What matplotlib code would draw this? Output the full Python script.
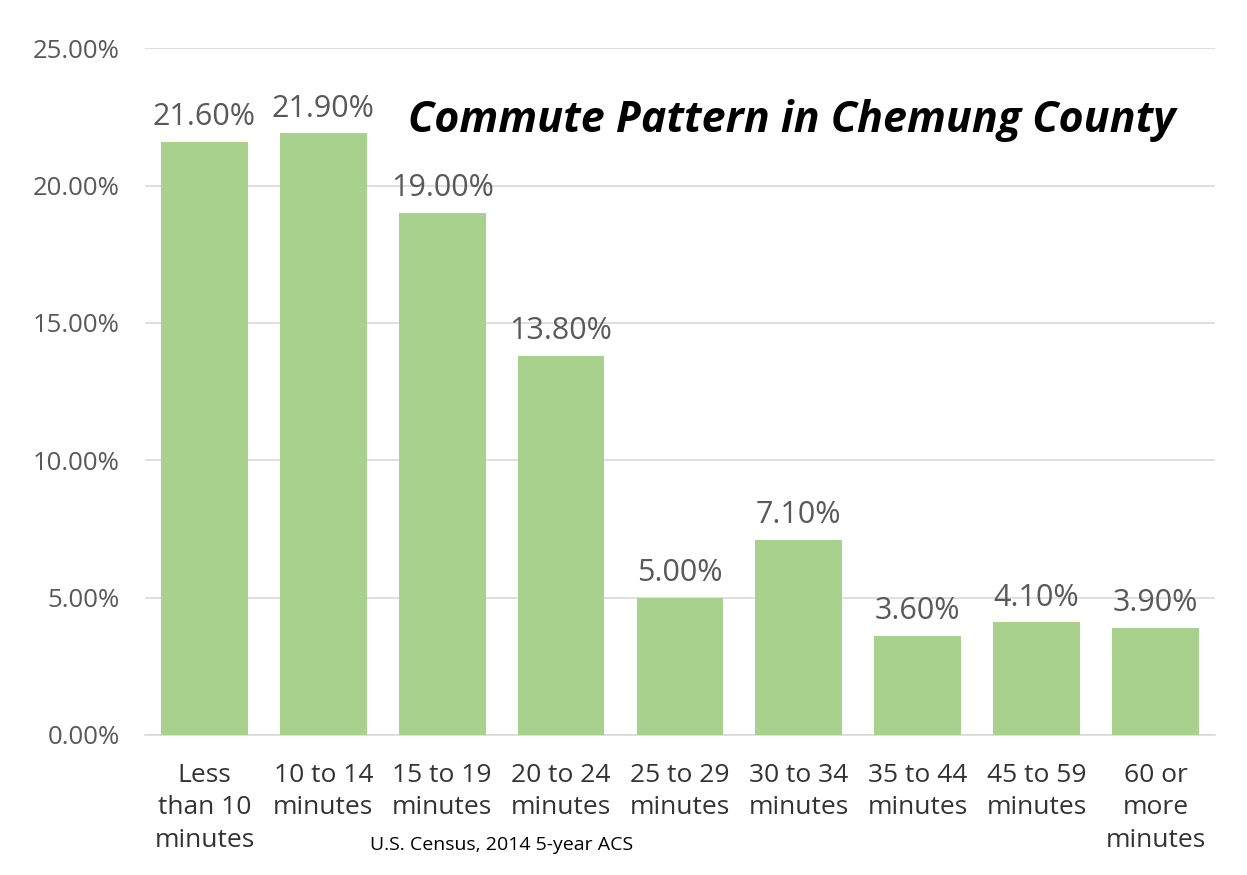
import matplotlib.pyplot as plt
from matplotlib.ticker import FuncFormatter

# commute time buckets and share of workers (percent)
categories = ['Less\nthan 10\nminutes', '10 to 14\nminutes', '15 to 19\nminutes',
              '20 to 24\nminutes', '25 to 29\nminutes', '30 to 34\nminutes',
              '35 to 44\nminutes', '45 to 59\nminutes', '60 or\nmore\nminutes']
shares = [21.6, 21.9, 19.0, 13.8, 5.0, 7.1, 3.6, 4.1, 3.9]
y_ticks = [0, 5, 10, 15, 20, 25]

plt.rcParams['font.family'] = ['Open Sans', 'DejaVu Sans']
txt_col = '#595959'

fig = plt.figure(figsize=(12.47, 8.75), dpi=100)
ax = fig.add_axes([0.1163, 0.16, 0.858, 0.785])

x = range(len(shares))
bars = ax.bar(x, shares, width=0.73, color='#A9D18E', zorder=3)

for xi, v in zip(x, shares):
    ax.annotate('%.2f%%' % v, (xi, v), xytext=(0, 7), textcoords='offset points',
                ha='center', va='bottom', fontsize=22, color=txt_col)

ax.set_xlim(-0.5, len(shares) - 0.5)
ax.set_ylim(0, 25)
ax.set_yticks(y_ticks)
ax.yaxis.set_major_formatter(FuncFormatter(lambda v, p: '%.2f%%' % v))
ax.grid(axis='y', color='#D9D9D9', linewidth=1.2, zorder=0)
ax.set_xticks(list(x))
ax.set_xticklabels(categories, fontsize=19, color='#333333', linespacing=1.4)
ax.tick_params(axis='y', labelsize=18.5, labelcolor=txt_col, length=0, pad=18)
ax.tick_params(axis='x', length=0, pad=20)
for s in ['top', 'right', 'left']:
    ax.spines[s].set_visible(False)
ax.spines['bottom'].set_color('#D9D9D9')
ax.spines['bottom'].set_linewidth(1.2)

fig.text(0.327, 0.862, 'Commute Pattern in Chemung County', fontsize=31,
         fontweight='bold', fontstyle='italic', color='black', va='center')
fig.text(0.297, 0.034, 'U.S. Census, 2014 5-year ACS', fontsize=14,
         color='black', va='center')

fig.savefig('out.png', dpi=100, facecolor='white')
